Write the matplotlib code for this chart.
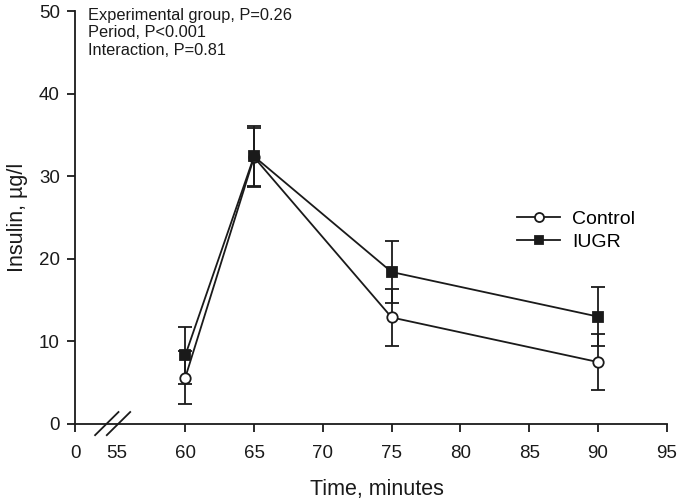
import matplotlib
matplotlib.use("Agg")
import matplotlib.pyplot as plt
from matplotlib.lines import Line2D

plt.rcParams['font.family'] = ['Liberation Sans', 'DejaVu Sans']

# data
times = [60, 65, 75, 90]
control = [5.6, 32.3, 12.9, 7.5]
control_err = [3.2, 3.5, 3.4, 3.4]
iugr = [8.3, 32.4, 18.4, 13.0]
iugr_err = [3.4, 3.7, 3.7, 3.55]

xtick_pos = [52, 55, 60, 65, 70, 75, 80, 85, 90, 95]
xtick_labels = ['0', '55', '60', '65', '70', '75', '80', '85', '90', '95']
yticks = [0, 10, 20, 30, 40, 50]
stats_text = "Experimental group, P=0.26\nPeriod, P<0.001\nInteraction, P=0.81"

ink = '#1a1a1a'

fig = plt.figure(figsize=(6.77, 5.01), dpi=100)
ax = fig.add_axes([0.111, 0.1537, 0.874, 0.8243])

ax.errorbar(times, control, yerr=control_err, color=ink, lw=1.3,
            marker='o', mfc='white', mec=ink, ms=7.5, mew=1.3,
            capsize=5, capthick=1.3, elinewidth=1.3, zorder=3)
ax.errorbar(times, iugr, yerr=iugr_err, color=ink, lw=1.3,
            marker='s', mfc=ink, mec=ink, ms=7, mew=1.3,
            capsize=5, capthick=1.3, elinewidth=1.3, zorder=3)

ax.set_xlim(52, 95)
ax.set_ylim(0, 50)
ax.set_xticks(xtick_pos)
ax.set_xticklabels(xtick_labels)
ax.set_yticks(yticks)
ax.xaxis.get_major_ticks()[1].tick1line.set_visible(False)

for s in ['top', 'right']:
    ax.spines[s].set_visible(False)
for s in ['left', 'bottom']:
    ax.spines[s].set_linewidth(1.3)
    ax.spines[s].set_color(ink)
ax.tick_params(direction='out', length=6, width=1.3, labelsize=13.5,
               colors=ink, pad=5)
ax.tick_params(axis='x', pad=9)

ax.set_xlabel('Time, minutes', fontsize=15.5, color=ink)
ax.xaxis.set_label_coords(0.51, -0.132)
ax.set_ylabel('Insulin, µg/l', fontsize=15.5, color=ink, labelpad=8)

# axis break marks
for x0 in (53.45, 54.3):
    ax.plot([x0, x0 + 1.7], [-1.35, 1.45], color=ink, lw=1.3,
            clip_on=False, zorder=4)

ax.text(52.9, 50.4, stats_text, fontsize=11.8, va='top', ha='left',
        color=ink, linespacing=1.2)

handles = [
    Line2D([], [], color=ink, lw=1.3, marker='o', mfc='white', mec=ink,
           ms=6.5, mew=1.3),
    Line2D([], [], color=ink, lw=1.3, marker='s', mfc=ink, mec=ink,
           ms=6, mew=1.3),
]
ax.legend(handles, ['Control', 'IUGR'], loc='upper left',
          bbox_to_anchor=(0.718, 0.56), frameon=False, fontsize=14,
          handlelength=2.2, handletextpad=0.6, labelspacing=0.3)

fig.savefig('out.png', dpi=100)
